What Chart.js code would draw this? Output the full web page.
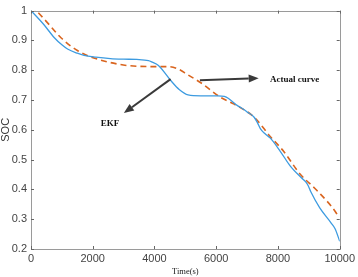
<!DOCTYPE html>
<html>
<head>
<meta charset="utf-8">
<script src="https://cdn.jsdelivr.net/npm/chart.js@4/dist/chart.umd.min.js"></script>
<style>
html,body{margin:0;padding:0;background:#fff;}
#c{display:block;}
</style>
</head>
<body>
<canvas id="c" width="358" height="277"></canvas>
<script>
// Time (s) and SOC for the EKF estimate (solid blue)
const ekfTime = [0, 400, 757, 1000, 1184, 1500, 1718, 2100, 2570, 3000, 3424, 3808, 3904, 4128, 4554, 4800, 5088, 5500, 6048, 6262, 6400, 6688, 6794, 7000, 7222, 7330, 7434, 7600, 7754, 8074, 8394, 8768, 8900, 8980, 9060, 9354, 9718, 9850, 10000];
const ekfSOC  = [1.0, 0.955, 0.909, 0.885, 0.871, 0.857, 0.850, 0.844, 0.839, 0.837, 0.836, 0.832, 0.828, 0.816, 0.762, 0.735, 0.717, 0.714, 0.714, 0.712, 0.705, 0.681, 0.675, 0.660, 0.643, 0.625, 0.603, 0.585, 0.572, 0.528, 0.479, 0.438, 0.425, 0.412, 0.393, 0.338, 0.288, 0.268, 0.226];
// Time (s) and SOC for the actual curve (dashed orange)
const actTime = [0, 170, 544, 970, 1504, 2037, 2890, 3317, 4000, 4448, 4768, 5088, 5514, 6154, 6582, 7222, 7754, 8182, 8714, 9248, 9888, 9920];
const actSOC  = [1.015, 1.0, 0.958, 0.909, 0.866, 0.841, 0.819, 0.814, 0.812, 0.812, 0.804, 0.784, 0.757, 0.708, 0.686, 0.643, 0.577, 0.528, 0.452, 0.398, 0.321, 0.315];
// Axis ticks
const xTicks = [0, 2000, 4000, 6000, 8000, 10000];
const yTicks = [0.2, 0.3, 0.4, 0.5, 0.6, 0.7, 0.8, 0.9, 1];
// Annotation labels
const labelEKF = "EKF";
const labelActual = "Actual curve";
const xTitle = "Time(s)";
const yTitle = "SOC";

const toPts = (t, v) => t.map((x, i) => ({x: x, y: v[i]}));

const annotations = [
  {from: [4522, 0.770], to: [3008, 0.656], text: labelEKF, at: [2560, 0.620], align: 'center'},
  {from: [5472, 0.766], to: [7376, 0.773], text: labelActual, at: [7744, 0.768], align: 'left'}
];

const framePlugin = {
  id: 'frame',
  afterDatasetsDraw(chart) {
    const {ctx, chartArea: a, scales} = chart;
    ctx.save();
    ctx.strokeStyle = '#9a9a9a';
    ctx.lineWidth = 1;
    ctx.strokeRect(Math.round(a.left) + 0.5, Math.round(a.top) + 0.5, Math.round(a.right - a.left), Math.round(a.bottom - a.top));
    ctx.strokeStyle = '#666';
    ctx.beginPath();
    xTicks.forEach(v => {
      const px = Math.round(scales.x.getPixelForValue(v)) + 0.5;
      ctx.moveTo(px, a.bottom); ctx.lineTo(px, a.bottom - 3);
      ctx.moveTo(px, a.top); ctx.lineTo(px, a.top + 3);
    });
    yTicks.forEach(v => {
      const py = Math.round(scales.y.getPixelForValue(v)) + 0.5;
      ctx.moveTo(a.left, py); ctx.lineTo(a.left + 3, py);
      ctx.moveTo(a.right, py); ctx.lineTo(a.right - 3, py);
    });
    ctx.stroke();
    // annotations
    annotations.forEach(an => {
      const x1 = scales.x.getPixelForValue(an.from[0]), y1 = scales.y.getPixelForValue(an.from[1]);
      const x2 = scales.x.getPixelForValue(an.to[0]), y2 = scales.y.getPixelForValue(an.to[1]);
      const ang = Math.atan2(y2 - y1, x2 - x1);
      const hl = 10, hw = 4;
      const bx = x2 - hl * Math.cos(ang), by = y2 - hl * Math.sin(ang);
      ctx.strokeStyle = '#3a3a3a';
      ctx.fillStyle = '#3a3a3a';
      ctx.lineWidth = 2;
      ctx.beginPath();
      ctx.moveTo(x1, y1); ctx.lineTo(bx, by);
      ctx.stroke();
      ctx.beginPath();
      ctx.moveTo(x2, y2);
      ctx.lineTo(bx + hw * Math.sin(ang), by - hw * Math.cos(ang));
      ctx.lineTo(bx - hw * Math.sin(ang), by + hw * Math.cos(ang));
      ctx.closePath();
      ctx.fill();
      ctx.fillStyle = '#111';
      ctx.font = 'bold 9px "Liberation Serif", serif';
      ctx.textAlign = an.align;
      ctx.textBaseline = 'middle';
      ctx.fillText(an.text, scales.x.getPixelForValue(an.at[0]), scales.y.getPixelForValue(an.at[1]));
    });
    ctx.restore();
  }
};

new Chart(document.getElementById('c'), {
  type: 'line',
  data: {
    datasets: [
      {
        label: 'EKF',
        data: toPts(ekfTime, ekfSOC),
        borderColor: '#3d9be0',
        borderWidth: 1.3,
        pointRadius: 0,
        fill: false,
        cubicInterpolationMode: 'monotone'
      },
      {
        label: 'Actual curve',
        data: toPts(actTime, actSOC),
        borderColor: '#d9641e',
        borderWidth: 1.6,
        borderDash: [6, 4],
        pointRadius: 0,
        fill: false,
        cubicInterpolationMode: 'monotone'
      }
    ]
  },
  options: {
    responsive: false,
    animation: false,
    devicePixelRatio: 1,
    layout: {padding: {top: 4, right: 14, left: 0, bottom: 0}},
    plugins: {legend: {display: false}, tooltip: {enabled: false}},
    scales: {
      x: {
        type: 'linear',
        min: 0, max: 10000,
        afterFit: s => { s.height = 28; },
        afterBuildTicks: s => { s.ticks = xTicks.map(v => ({value: v})); },
        grid: {display: false, drawTicks: false},
        border: {display: false},
        ticks: {
          padding: 3,
          maxRotation: 0,
          color: '#444',
          font: {family: '"Liberation Sans", Arial, sans-serif', size: 11},
          callback: v => String(v)
        },
        title: {
          display: true, text: xTitle, color: '#222',
          font: {family: '"Liberation Serif", serif', size: 8.5},
          padding: {top: 0, bottom: 0}
        }
      },
      y: {
        type: 'linear',
        min: 0.2, max: 1,
        afterFit: s => { s.width = 31; },
        afterBuildTicks: s => { s.ticks = yTicks.map(v => ({value: v})); },
        grid: {display: false, drawTicks: false},
        border: {display: false},
        ticks: {
          padding: 4,
          color: '#444',
          font: {family: '"Liberation Sans", Arial, sans-serif', size: 11},
          callback: v => String(Math.round(v * 10) / 10)
        },
        title: {
          display: true, text: yTitle, color: '#333',
          font: {family: '"Liberation Sans", Arial, sans-serif', size: 11, lineHeight: 1},
          padding: {top: 0, bottom: 0}
        }
      }
    }
  },
  plugins: [framePlugin]
});
</script>
</body>
</html>
